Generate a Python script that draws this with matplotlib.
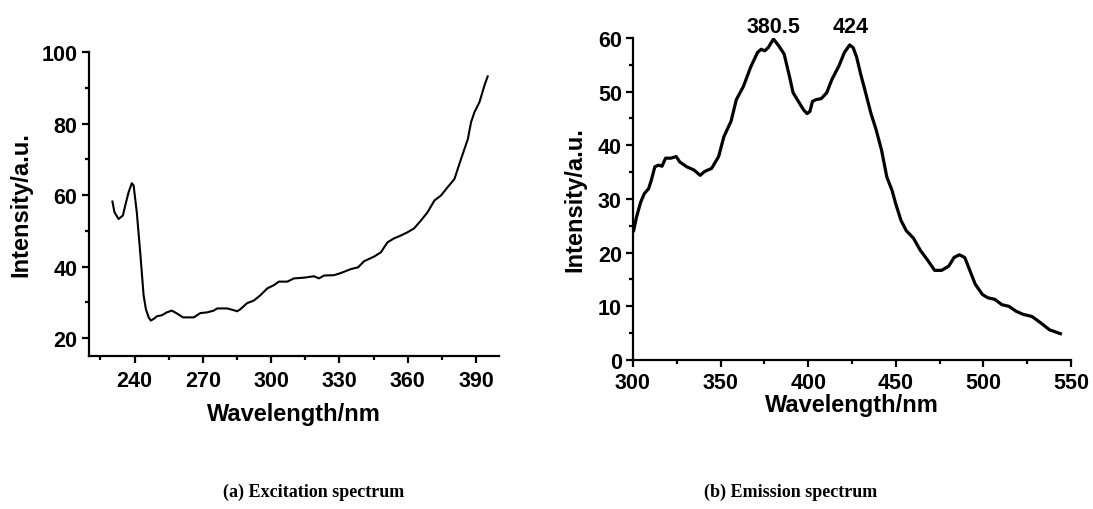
import matplotlib
matplotlib.use("Agg")
from matplotlib import pyplot as plt
from matplotlib.ticker import MultipleLocator

# excitation spectrum (a)
ex_wl = [230.3, 231.2, 233.0, 234.9, 235.9, 237.4, 238.8, 239.6, 241.0, 242.5, 244.0, 245.0,
         246.2, 247.2, 248.7, 249.8, 252.0, 254.2, 256.4, 258.6, 261.3, 266.0, 268.9, 271.9,
         274.8, 276.3, 280.7, 283.6, 285.1, 286.5, 289.5, 292.4, 295.3, 298.3, 301.2, 303.4,
         307.1, 310.0, 314.4, 318.8, 321.0, 323.2, 327.6, 330.6, 335.0, 338.2, 340.8, 345.2,
         348.2, 351.1, 354.0, 357.0, 359.9, 362.8, 365.8, 368.7, 371.7, 374.6, 377.5, 380.5,
         383.4, 386.4, 387.8, 389.3, 391.5, 393.7, 395.1]
ex_int = [58.2, 55.2, 53.3, 54.3, 57.0, 60.8, 63.3, 62.7, 55.2, 44.0, 31.9, 28.1,
          25.8, 24.9, 25.5, 26.1, 26.4, 27.2, 27.7, 26.9, 25.8, 25.8, 27.0, 27.2,
          27.7, 28.3, 28.3, 27.8, 27.5, 28.1, 29.8, 30.5, 32.0, 33.9, 34.8, 35.8,
          35.8, 36.7, 36.9, 37.3, 36.7, 37.5, 37.6, 38.2, 39.3, 39.8, 41.5, 42.8,
          44.0, 46.8, 47.9, 48.7, 49.6, 50.7, 52.9, 55.2, 58.5, 59.9, 62.2, 64.5,
          70.1, 75.7, 80.4, 83.2, 86.0, 90.7, 93.2]

# emission spectrum (b)
em_wl = [300.4, 302.0, 304.4, 306.5, 308.9, 310.5, 312.5, 314.6, 316.6, 318.6, 321.6, 324.7,
         326.7, 330.7, 334.8, 338.4, 340.8, 344.9, 348.9, 351.9, 356.0, 359.0, 363.1, 367.1,
         371.1, 373.2, 375.2, 377.2, 380.2, 383.3, 386.3, 389.3, 391.4, 394.4, 397.4, 399.4,
         401.0, 402.5, 404.5, 407.5, 410.6, 413.6, 417.6, 420.7, 423.7, 425.7, 427.7, 429.8,
         432.8, 435.8, 438.8, 441.9, 444.9, 447.9, 450.0, 453.0, 456.0, 460.1, 464.1, 468.2,
         472.2, 476.2, 480.3, 483.3, 486.3, 489.4, 492.4, 495.4, 499.5, 502.5, 506.5, 510.6,
         514.6, 518.6, 522.7, 527.8, 532.8, 537.9, 544.0]
em_int = [24.1, 26.6, 29.4, 31.0, 31.9, 33.5, 36.0, 36.3, 36.1, 37.6, 37.6, 37.9,
          36.9, 36.0, 35.4, 34.4, 35.1, 35.7, 37.9, 41.6, 44.5, 48.5, 51.0, 54.5,
          57.3, 57.9, 57.6, 58.2, 59.8, 58.5, 57.0, 52.9, 49.8, 48.2, 46.6, 45.9,
          46.3, 48.2, 48.5, 48.7, 49.8, 52.3, 54.8, 57.3, 58.7, 58.2, 56.4, 53.5,
          49.8, 46.0, 42.9, 39.1, 34.1, 31.6, 29.1, 26.0, 24.1, 22.7, 20.4, 18.6,
          16.7, 16.7, 17.5, 19.1, 19.6, 19.1, 16.6, 14.1, 12.2, 11.6, 11.3, 10.3,
          10.0, 9.1, 8.5, 8.1, 6.9, 5.6, 4.9]

peak_labels = ["380.5", "424"]
peak_pos = [380.5, 424]
peak_y = [62.1, 62.1]

plt.rcParams['font.family'] = ['Liberation Sans', 'DejaVu Sans']
plt.rcParams['font.weight'] = 'bold'

fig = plt.figure(figsize=(10.93, 5.10), dpi=100)
ax1 = fig.add_axes([0.0814, 0.30, 0.375, 0.596])
ax2 = fig.add_axes([0.5791, 0.2922, 0.4007, 0.6314])

def style(ax):
    for s in ['top', 'right']:
        ax.spines[s].set_visible(False)
    for s in ['left', 'bottom']:
        ax.spines[s].set_linewidth(1.6)
    ax.tick_params(which='major', direction='out', length=5, width=1.6, labelsize=15.5)
    ax.tick_params(which='minor', direction='out', length=3, width=1.6)
    for lab in ax.get_xticklabels() + ax.get_yticklabels():
        lab.set_fontweight('bold')

# (a) excitation
ax1.plot(ex_wl, ex_int, color='black', lw=1.5)
ax1.set_xlim(220, 400)
ax1.set_ylim(15, 100)
ax1.set_xticks([240, 270, 300, 330, 360, 390])
ax1.xaxis.set_minor_locator(MultipleLocator(15))
ax1.set_yticks([20, 40, 60, 80, 100])
ax1.yaxis.set_minor_locator(MultipleLocator(10))
style(ax1)
ax1.tick_params(axis='x', pad=5)
ax1.set_xlabel('Wavelength/nm', fontsize=17, fontweight='bold', labelpad=8)
ax1.set_ylabel('Intensity/a.u.', fontsize=17, fontweight='bold', labelpad=6)

# (b) emission
ax2.plot(em_wl, em_int, color='black', lw=2.3)
ax2.set_xlim(300, 550)
ax2.set_ylim(0, 60)
ax2.set_xticks([300, 350, 400, 450, 500, 550])
ax2.xaxis.set_minor_locator(MultipleLocator(25))
ax2.set_yticks([0, 10, 20, 30, 40, 50, 60])
ax2.yaxis.set_minor_locator(MultipleLocator(5))
style(ax2)
ax2.tick_params(axis='x', pad=4)
ax2.tick_params(axis='y', pad=3)
ax2.set_xlabel('Wavelength/nm', fontsize=17, fontweight='bold', labelpad=0)
ax2.set_ylabel('Intensity/a.u.', fontsize=17, fontweight='bold', labelpad=8)
for lab, xp, yp in zip(peak_labels, peak_pos, peak_y):
    ax2.text(xp, yp, lab, ha='center', va='center', fontsize=15.5, fontweight='bold', clip_on=False)

# captions under each panel
fig.text(0.287, 0.035, '(a) Excitation spectrum', ha='center', va='center',
         family=['Liberation Serif', 'DejaVu Serif'], fontweight='bold', fontsize=13)
fig.text(0.723, 0.035, '(b) Emission spectrum', ha='center', va='center',
         family=['Liberation Serif', 'DejaVu Serif'], fontweight='bold', fontsize=13)

fig.savefig('out.png', dpi=100)
